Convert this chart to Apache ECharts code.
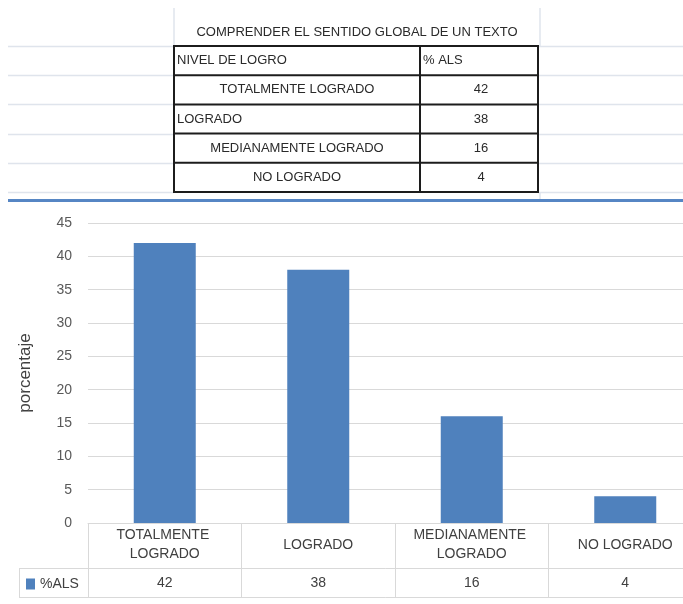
<!DOCTYPE html>
<html>
<head>
<meta charset="utf-8">
<script src="https://cdn.jsdelivr.net/npm/echarts@6/dist/echarts.min.js"></script>
<style>
html,body{margin:0;padding:0;background:#fff;}
#chart{width:683px;height:604px;}
</style>
</head>
<body>
<div id="chart"></div>
<script>
// ---- data ----
const tableTitle = 'COMPRENDER EL SENTIDO GLOBAL DE UN TEXTO';
const tableHeaders = ['NIVEL DE LOGRO', '% ALS'];
const categories = ['TOTALMENTE LOGRADO', 'LOGRADO', 'MEDIANAMENTE LOGRADO', 'NO LOGRADO'];
const alsValues = [42, 38, 16, 4];
const seriesName = '%ALS';
const yAxisName = 'porcentaje';
const yMin = 0, yMax = 45, yInterval = 5;

// ---- layout / style (not data) ----
const firstColAlign = ['center', 'left', 'center', 'center'];
const TBL = { x0: 174, x1: 420, x2: 538, y0: 46, rowH: 29.2, gridL: 8, gridR: 683 };
const GRID = { left: 88, top: 223, width: 614, height: 300 };
const tableFont = '13px "Liberation Sans", Arial, sans-serif';
const lightGrid = '#dfe4ec';
const axisGray = '#d9d9d9';

const chart = echarts.init(document.getElementById('chart'), null, { renderer: 'canvas' });

function buildGraphic() {
  const g = [];
  const nRows = categories.length + 1;
  const yBottom = TBL.y0 + nRows * TBL.rowH;
  // Excel sheet light gridlines
  for (let r = 0; r <= nRows; r++) {
    const y = Math.round(TBL.y0 + r * TBL.rowH) + 0.5;
    g.push({ type: 'line', shape: { x1: TBL.gridL, y1: y, x2: TBL.x0, y2: y }, style: { stroke: lightGrid, lineWidth: 1.5 }, silent: true });
    g.push({ type: 'line', shape: { x1: TBL.x2, y1: y, x2: TBL.gridR, y2: y }, style: { stroke: lightGrid, lineWidth: 1.5 }, silent: true });
  }
  g.push({ type: 'line', shape: { x1: TBL.x0, y1: 8, x2: TBL.x0, y2: TBL.y0 }, style: { stroke: lightGrid, lineWidth: 1.5 } });
  g.push({ type: 'line', shape: { x1: TBL.x2 + 2, y1: 8, x2: TBL.x2 + 2, y2: TBL.y0 }, style: { stroke: lightGrid, lineWidth: 1.5 } });
  g.push({ type: 'line', shape: { x1: TBL.x2 + 2, y1: yBottom, x2: TBL.x2 + 2, y2: 200 }, style: { stroke: lightGrid, lineWidth: 1.5 } });
  // title of the table
  g.push({ type: 'text', x: (TBL.x0 + TBL.x2 + 2) / 2, y: 32,
    style: { text: tableTitle, font: tableFont, fill: '#2a2a2a', align: 'center', verticalAlign: 'middle' } });
  // bordered table
  for (let r = 0; r <= nRows; r++) {
    const y = TBL.y0 + r * TBL.rowH;
    g.push({ type: 'line', shape: { x1: TBL.x0 - 1, y1: y, x2: TBL.x2 + 1, y2: y }, style: { stroke: '#1c1c1c', lineWidth: 2 } });
  }
  [TBL.x0, TBL.x1, TBL.x2].forEach(x => {
    g.push({ type: 'line', shape: { x1: x, y1: TBL.y0, x2: x, y2: yBottom }, style: { stroke: '#1c1c1c', lineWidth: 2 } });
  });
  // header row
  const hy = TBL.y0 + TBL.rowH / 2;
  g.push({ type: 'text', x: TBL.x0 + 3, y: hy, style: { text: tableHeaders[0], font: tableFont, fill: '#2a2a2a', align: 'left', verticalAlign: 'middle' } });
  g.push({ type: 'text', x: TBL.x1 + 3, y: hy, style: { text: tableHeaders[1], font: tableFont, fill: '#2a2a2a', align: 'left', verticalAlign: 'middle' } });
  // body rows
  categories.forEach((c, i) => {
    const y = TBL.y0 + TBL.rowH * (i + 1.5);
    const al = firstColAlign[i];
    const x = al === 'left' ? TBL.x0 + 3 : (TBL.x0 + TBL.x1) / 2;
    g.push({ type: 'text', x: x, y: y, style: { text: c, font: tableFont, fill: '#2a2a2a', align: al, verticalAlign: 'middle' } });
    g.push({ type: 'text', x: (TBL.x1 + TBL.x2) / 2 + 2, y: y, style: { text: String(alsValues[i]), font: tableFont, fill: '#2a2a2a', align: 'center', verticalAlign: 'middle' } });
  });
  // blue chart border line
  g.push({ type: 'line', shape: { x1: 8, y1: 200.5, x2: 683, y2: 200.5 }, style: { stroke: '#5686c4', lineWidth: 3 } });
  // data-table row header box
  const gy0 = GRID.top + GRID.height;
  const r1 = gy0 + 45, r2 = gy0 + 74;
  g.push({ type: 'line', shape: { x1: 19.5, y1: r1, x2: 19.5, y2: r2 }, style: { stroke: axisGray, lineWidth: 1 } });
  g.push({ type: 'line', shape: { x1: 19, y1: r1 + 0.5, x2: GRID.left, y2: r1 + 0.5 }, style: { stroke: axisGray, lineWidth: 1 } });
  g.push({ type: 'line', shape: { x1: 19, y1: r2 + 0.5, x2: GRID.left, y2: r2 + 0.5 }, style: { stroke: axisGray, lineWidth: 1 } });
  return g;
}

const labelFont = { fontFamily: '"Liberation Sans", Arial, sans-serif', fontSize: 14, color: '#404040' };

const option = {
  animation: false,
  backgroundColor: '#ffffff',
  grid: { left: GRID.left, top: GRID.top, width: GRID.width, height: GRID.height, outerBoundsMode: 'none', containLabel: false },
  legend: {
    left: 26, top: 577, padding: 0, data: [seriesName], icon: 'rect', itemWidth: 9, itemHeight: 11, itemGap: 5,
    textStyle: Object.assign({}, labelFont, { padding: [0, 0, 0, 0] })
  },
  xAxis: [
    {
      type: 'category', data: categories, position: 'bottom',
      axisLine: { show: true, lineStyle: { color: axisGray, width: 1 } },
      axisTick: { show: true, interval: 0, length: 74, lineStyle: { color: axisGray } },
      axisLabel: Object.assign({}, labelFont, { interval: 0, width: 118, overflow: 'break', lineHeight: 19, verticalAlign: 'middle', margin: 22, align: 'center' }),
      splitLine: { show: false }
    },
    {
      type: 'category', data: alsValues.map(String), position: 'bottom', offset: 45,
      axisLine: { show: true, lineStyle: { color: axisGray, width: 1 } },
      axisTick: { show: false },
      axisLabel: Object.assign({}, labelFont, { interval: 0, verticalAlign: 'middle', margin: 15 }),
      splitLine: { show: false }
    },
    {
      type: 'category', data: categories, position: 'bottom', offset: 74,
      axisLine: { show: true, lineStyle: { color: axisGray, width: 1 } },
      axisTick: { show: false },
      axisLabel: { show: false },
      splitLine: { show: false }
    }
  ],
  yAxis: {
    type: 'value', min: yMin, max: yMax, interval: yInterval,
    name: yAxisName, nameLocation: 'middle', nameGap: 54, nameRotate: 90,
    nameTextStyle: { fontFamily: '"Liberation Sans", Arial, sans-serif', fontSize: 17, color: '#404040' },
    axisLine: { show: false }, axisTick: { show: false },
    axisLabel: { fontFamily: '"Liberation Sans", Arial, sans-serif', fontSize: 14, color: '#595959', margin: 16 },
    splitLine: { show: true, lineStyle: { color: axisGray, width: 1 } }
  },
  series: [{
    name: seriesName, type: 'bar', xAxisIndex: 0, data: alsValues, barWidth: 62,
    itemStyle: { color: '#4f81bd' }
  }],
  graphic: buildGraphic()
};
chart.setOption(option);
</script>
</body>
</html>
